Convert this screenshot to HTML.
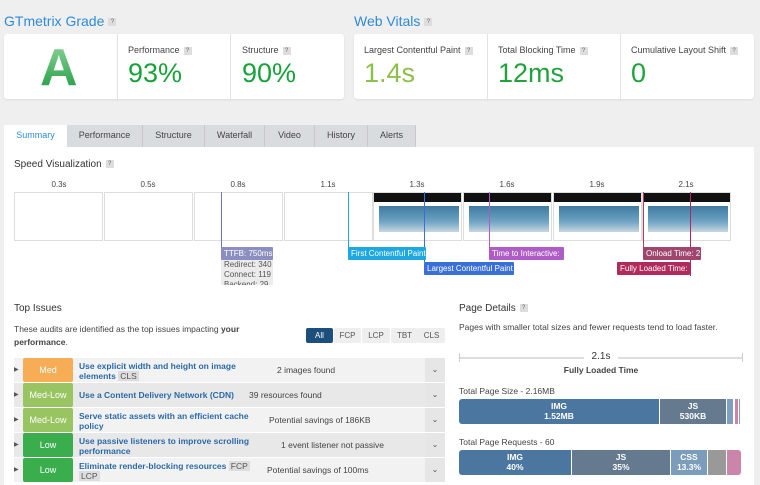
<!DOCTYPE html>
<html><head><meta charset="utf-8"><style>
*{margin:0;padding:0;box-sizing:border-box}
body{width:760px;height:485px;background:#efefef;font-family:"Liberation Sans",sans-serif;position:relative;overflow:hidden;color:#333}
.a{position:absolute}
.q{display:inline-block;width:8px;height:8px;background:#ddd;color:#666;font-size:6px;line-height:8px;text-align:center;vertical-align:middle;margin-left:4px}
.h{color:#2e8bd8;font-size:14px}
.box{background:#fff;border-radius:3px;box-shadow:0 1px 2px rgba(0,0,0,.08)}
.lbl{font-size:9px;color:#444}
.big{font-size:27px}
.tab{position:absolute;top:125px;height:22px;background:#d9dcdf;font-size:9px;color:#444;text-align:center;line-height:21px;border-right:1px solid #c8c8c8}
.fr{position:absolute;top:192px;width:89px;height:49px;border:1px solid #ddd;background:#fff}
.sh{background:#fff}
.sh i{position:absolute;left:0;top:0;width:100%;height:9px;background:#111}
.sh b{position:absolute;left:5px;top:13px;width:80px;height:26px;background:linear-gradient(#3f7aa0,#6fa4c4 60%,#c7d6df)}
.tick{position:absolute;top:180px;font-size:8px;color:#444;width:40px;text-align:center}
.vl{position:absolute;width:1px}
.tg{position:absolute;height:13px;color:#fff;font-size:8px;line-height:13px;padding-left:3px;white-space:nowrap;overflow:hidden;border-radius:1px}
.row{position:absolute;left:14px;width:431px;height:24px;background:#f2f2f2}
.row.g{background:#e8e8e8}
.bd{position:absolute;left:9px;top:0;width:50px;height:24px;color:#fff;font-size:9px;text-align:center;line-height:24px;border-radius:2px}
.ti{position:absolute;left:65px;color:#2a6aa8;font-weight:bold;font-size:8.5px;line-height:10px;width:180px}
.ds{position:absolute;font-size:8.5px;color:#444;top:7px}
.arr{position:absolute;left:0;top:8px;font-size:6px;color:#555}
.ch{position:absolute;right:0;top:0;width:20px;height:24px;background:#e6e6e6;font-size:8px;color:#555;text-align:center;line-height:24px}
.tag{background:#ddd;color:#555;font-weight:normal;padding:0 2px}
.fb{position:absolute;top:328px;height:15px;background:#eee;font-size:8px;color:#555;text-align:center;line-height:15px;border-radius:2px}
.seg{position:absolute;color:#fff;font-size:8.5px;font-weight:bold;text-align:center;line-height:10px;padding-top:2px}
</style></head><body>
<div class="a h" style="left:4px;top:13px">GTmetrix Grade<span class="q">?</span></div>
<div class="a h" style="left:354px;top:13px">Web Vitals<span class="q">?</span></div>
<div class="a box" style="left:4px;top:34px;width:340px;height:65px"></div>
<div class="a" style="left:117px;top:34px;width:1px;height:65px;background:#e2e2e2"></div>
<div class="a" style="left:230px;top:34px;width:1px;height:65px;background:#e2e2e2"></div>
<div class="a" style="left:40px;top:42px;font-size:52px;line-height:52px;font-weight:bold;color:#2fae55;background:linear-gradient(#8fd39a,#1a9c40);-webkit-background-clip:text;-webkit-text-fill-color:transparent">A</div>
<div class="a lbl" style="left:128px;top:45px">Performance<span class="q">?</span></div>
<div class="a big" style="left:128px;top:58px;color:#18a33a">93%</div>
<div class="a lbl" style="left:242px;top:45px">Structure<span class="q">?</span></div>
<div class="a big" style="left:242px;top:58px;color:#18a33a">90%</div>
<div class="a box" style="left:354px;top:34px;width:400px;height:65px"></div>
<div class="a" style="left:487px;top:34px;width:1px;height:65px;background:#e2e2e2"></div>
<div class="a" style="left:620px;top:34px;width:1px;height:65px;background:#e2e2e2"></div>
<div class="a lbl" style="left:364px;top:45px">Largest Contentful Paint<span class="q">?</span></div>
<div class="a big" style="left:364px;top:58px;color:#8cc04a">1.4s</div>
<div class="a lbl" style="left:498px;top:45px">Total Blocking Time<span class="q">?</span></div>
<div class="a big" style="left:498px;top:58px;color:#1fa33a">12ms</div>
<div class="a lbl" style="left:631px;top:45px">Cumulative Layout Shift<span class="q">?</span></div>
<div class="a big" style="left:631px;top:58px;color:#1fa33a">0</div>

<div class="tab" style="left:4px;width:63px;background:#fff;color:#2e8bd8;border:none">Summary</div>
<div class="tab" style="left:67px;width:76px">Performance</div>
<div class="tab" style="left:143px;width:62px">Structure</div>
<div class="tab" style="left:205px;width:60px">Waterfall</div>
<div class="tab" style="left:265px;width:50px">Video</div>
<div class="tab" style="left:315px;width:53px">History</div>
<div class="tab" style="left:368px;width:48px">Alerts</div>
<div class="a" style="left:4px;top:147px;width:750px;height:338px;background:#fff"></div>

<div class="a" style="left:14px;top:159px;font-size:10px;color:#333">Speed Visualization<span class="q">?</span></div>
<div class="tick" style="left:39px">0.3s</div><div class="tick" style="left:128px">0.5s</div><div class="tick" style="left:218px">0.8s</div><div class="tick" style="left:308px">1.1s</div><div class="tick" style="left:397px">1.3s</div><div class="tick" style="left:487px">1.6s</div><div class="tick" style="left:577px">1.9s</div><div class="tick" style="left:666px">2.1s</div>
<div class="fr" style="left:14px"></div><div class="fr" style="left:104px"></div><div class="fr" style="left:194px"></div><div class="fr" style="left:284px"></div>
<div class="fr sh" style="left:373px"><i></i><b></b></div><div class="fr sh" style="left:463px"><i></i><b></b></div><div class="fr sh" style="left:553px"><i></i><b></b></div><div class="fr sh" style="left:642px"><i></i><b></b></div>
<div class="vl" style="left:221px;top:192px;height:56px;background:#7077b8"></div>
<div class="vl" style="left:348px;top:192px;height:56px;background:#1ea7e1"></div>
<div class="vl" style="left:424px;top:192px;height:70px;background:#3a6fd8"></div>
<div class="vl" style="left:489px;top:192px;height:56px;background:#b05cc7"></div>
<div class="vl" style="left:643px;top:192px;height:56px;background:#a0466e"></div>
<div class="vl" style="left:690px;top:192px;height:84px;background:#b02a5e"></div>
<div class="tg" style="left:221px;top:247px;width:52px;background:#8b8fc0">TTFB: 750ms</div>
<div class="a" style="left:221px;top:260px;width:52px;height:25px;background:#ececec;font-size:8px;line-height:10px;color:#555;padding-left:3px;overflow:hidden;white-space:nowrap">Redirect: 340<br>Connect: 119<br>Backend: 29</div>
<div class="tg" style="left:348px;top:247px;width:78px;background:#1ea7e1">First Contentful Paint</div>
<div class="tg" style="left:424px;top:262px;width:90px;background:#3a6fd8">Largest Contentful Paint</div>
<div class="tg" style="left:489px;top:247px;width:75px;background:#b05cc7">Time to Interactive:</div>
<div class="tg" style="left:643px;top:247px;width:58px;background:#a0466e">Onload Time: 2</div>
<div class="tg" style="left:617px;top:262px;width:73px;background:#b02a5e">Fully Loaded Time:</div>

<div class="a" style="left:14px;top:303px;font-size:10px">Top Issues</div>
<div class="a" style="left:14px;top:323px;font-size:8.5px;line-height:13px;color:#444;width:260px">These audits are identified as the top issues impacting <b>your performance</b>.</div>
<div class="fb" style="left:306px;width:27px;background:#1d4f7c;color:#fff">All</div>
<div class="fb" style="left:334px;width:27px">FCP</div>
<div class="fb" style="left:362px;width:28px">LCP</div>
<div class="fb" style="left:391px;width:27px">TBT</div>
<div class="fb" style="left:418px;width:27px">CLS</div>

<div class="row" style="top:358px"><span class="arr">▶</span><div class="bd" style="background:#f6ad55">Med</div><div class="ti" style="top:3px">Use explicit width and height on image elements <span class="tag">CLS</span></div><div class="ds" style="left:263px">2 images found</div><div class="ch">⌄</div></div>
<div class="row g" style="top:383px"><span class="arr">▶</span><div class="bd" style="background:#99c462">Med-Low</div><div class="ti" style="top:7px;width:200px">Use a Content Delivery Network (CDN)</div><div class="ds" style="left:235px">39 resources found</div><div class="ch">⌄</div></div>
<div class="row" style="top:408px"><span class="arr">▶</span><div class="bd" style="background:#99c462">Med-Low</div><div class="ti" style="top:3px;width:185px">Serve static assets with an efficient cache policy</div><div class="ds" style="left:255px">Potential savings of 186KB</div><div class="ch">⌄</div></div>
<div class="row g" style="top:433px"><span class="arr">▶</span><div class="bd" style="background:#3aae4d">Low</div><div class="ti" style="top:3px;width:185px">Use passive listeners to improve scrolling performance</div><div class="ds" style="left:267px">1 event listener not passive</div><div class="ch">⌄</div></div>
<div class="row" style="top:458px"><span class="arr">▶</span><div class="bd" style="background:#3aae4d">Low</div><div class="ti" style="top:3px;width:185px">Eliminate render-blocking resources <span class="tag">FCP</span> <span class="tag">LCP</span></div><div class="ds" style="left:253px">Potential savings of 100ms</div><div class="ch">⌄</div></div>

<div class="a" style="left:459px;top:303px;font-size:10px">Page Details<span class="q">?</span></div>
<div class="a" style="left:459px;top:322px;font-size:8.5px;color:#444">Pages with smaller total sizes and fewer requests tend to load faster.</div>
<div class="a" style="left:459px;top:357px;width:284px;height:2px;background:#ddd"></div>
<div class="a" style="left:459px;top:353px;width:1px;height:9px;background:#ccc"></div>
<div class="a" style="left:742px;top:353px;width:1px;height:9px;background:#ccc"></div>
<div class="a" style="left:584px;top:351px;width:34px;background:#fff;text-align:center;font-size:10px">2.1s</div>
<div class="a" style="left:459px;top:365px;width:284px;text-align:center;font-size:8.5px;font-weight:bold;color:#444">Fully Loaded Time</div>
<div class="a" style="left:459px;top:386px;font-size:8.5px;color:#444">Total Page Size - 2.16MB</div>
<div class="seg" style="left:459px;top:399px;width:200px;height:25px;background:#4a76a0;border-radius:3px 0 0 3px">IMG<br>1.52MB</div>
<div class="seg" style="left:660px;top:399px;width:66px;height:25px;background:#667a8f">JS<br>530KB</div>
<div class="a" style="left:727px;top:399px;width:6px;height:25px;background:#7d9fc0"></div>
<div class="a" style="left:735px;top:399px;width:3px;height:25px;background:#cc85aa"></div>
<div class="a" style="left:739px;top:399px;width:1px;height:25px;background:#999"></div>
<div class="a" style="left:459px;top:437px;font-size:8.5px;color:#444">Total Page Requests - 60</div>
<div class="seg" style="left:459px;top:450px;width:112px;height:25px;background:#4a76a0;border-radius:3px 0 0 3px">IMG<br>40%</div>
<div class="seg" style="left:572px;top:450px;width:98px;height:25px;background:#667a8f">JS<br>35%</div>
<div class="seg" style="left:671px;top:450px;width:36px;height:25px;background:#7b9cbb">CSS<br>13.3%</div>
<div class="a" style="left:708px;top:450px;width:18px;height:25px;background:#999"></div>
<div class="a" style="left:727px;top:450px;width:14px;height:25px;background:#cc85aa;border-radius:0 3px 3px 0"></div>
</body></html>
